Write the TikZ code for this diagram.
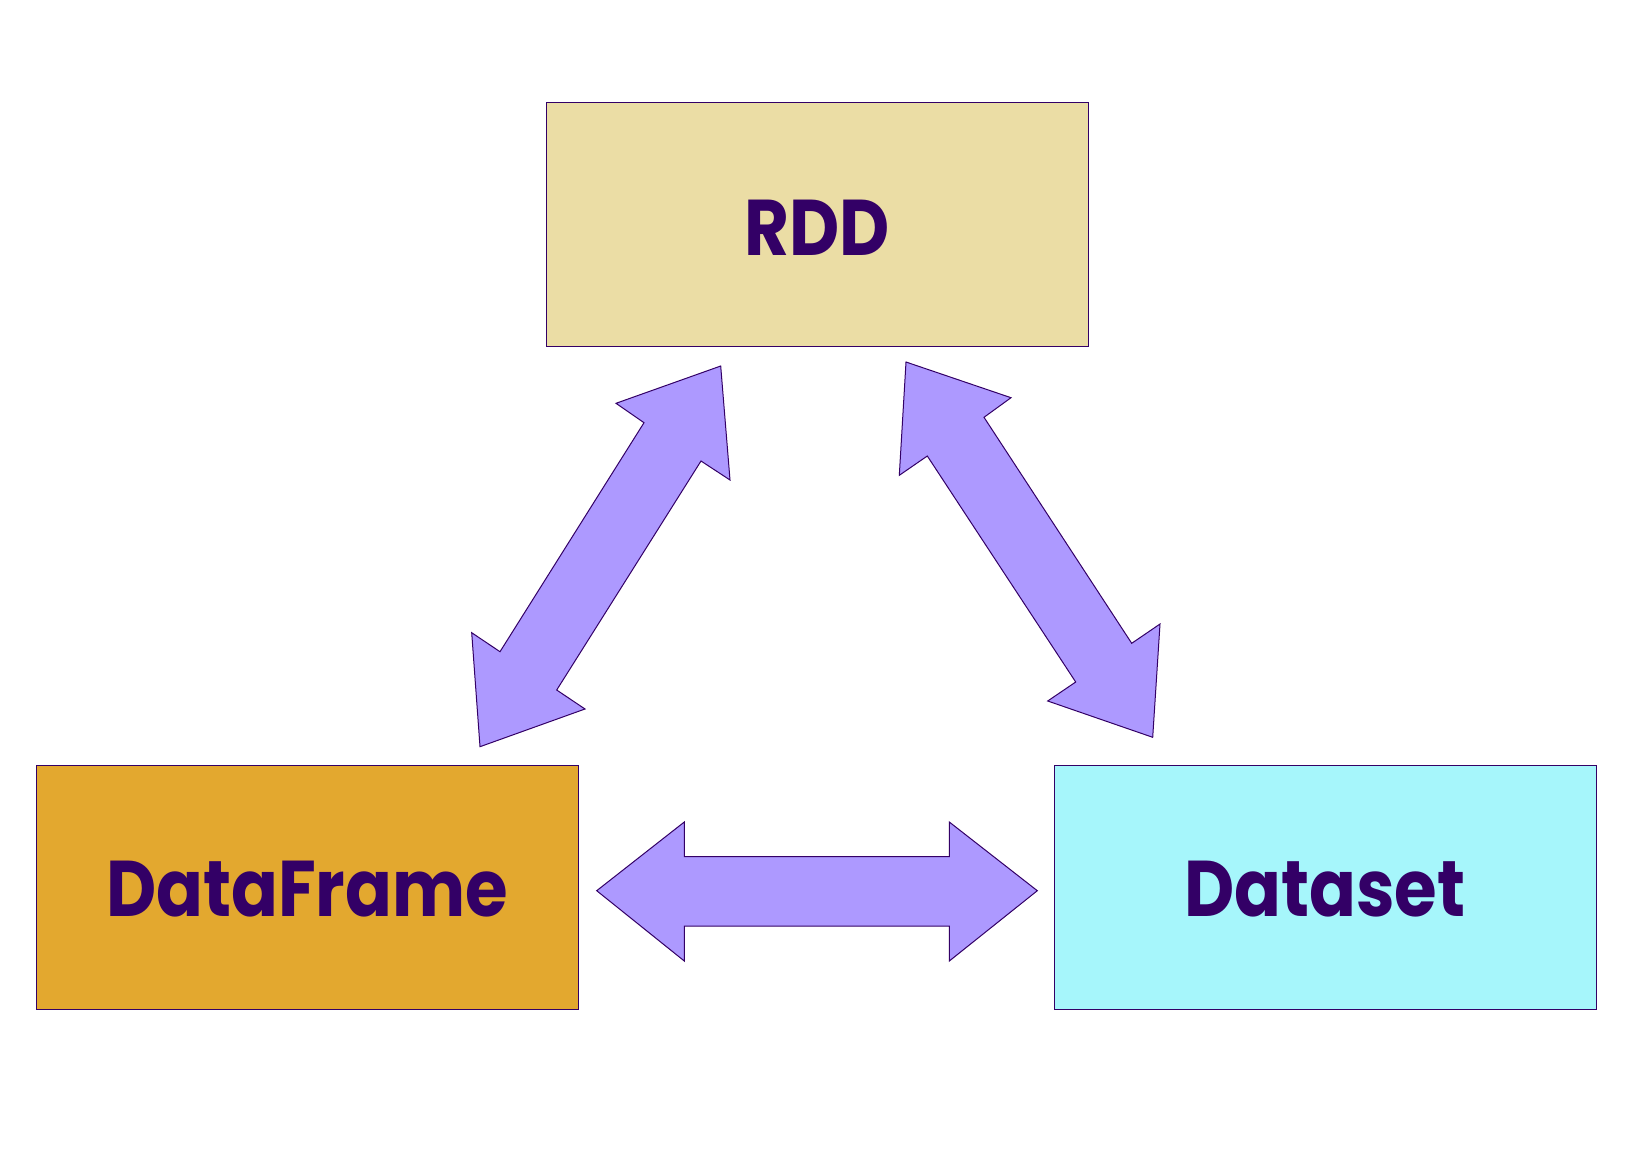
\documentclass[tikz,border=0pt]{standalone}
\usepackage{graphicx}
\usepackage{fontspec}
\setmainfont{Poppins}
\definecolor{ink}{HTML}{330066}
\definecolor{rddfill}{HTML}{EBDDA5}
\definecolor{dffill}{HTML}{E3A82F}
\definecolor{dsfill}{HTML}{A6F6FB}
\definecolor{arrfill}{HTML}{AD99FF}
\newcommand{\boxlbl}[1]{\scalebox{0.874}[1]{#1}}
\tikzset{
  boxnode/.style={draw=ink, line width=1pt, minimum width=542pt, minimum height=244pt, inner sep=0pt},
  lblnode/.style={inner sep=0pt, text=ink, font=\fontsize{79}{81}\selectfont\bfseries},
  blockarrow/.style={draw=ink, fill=arrfill, line width=1pt, line join=miter}
}
\begin{document}
\begin{tikzpicture}[x=1pt,y=-1pt]
\useasboundingbox[fill=white] (0,0) rectangle (1633,1154);
\node[boxnode, fill=rddfill] (rdd) at (817,224) {};
\node[boxnode, fill=dffill] (df) at (307,887) {};
\node[boxnode, fill=dsfill] (ds) at (1325,887) {};
\node[lblnode] (rddlbl) at ([yshift=-3.5pt]rdd.center) {\boxlbl{RDD}};
\node[lblnode] (dflbl) at ([yshift=-2pt]df.center) {\boxlbl{DataFrame}};
\node[lblnode] (dslbl) at ([yshift=-2pt]ds.center) {\boxlbl{Dataset}};
% RDD <-> DataFrame
\draw[blockarrow] (720.7,366) -- (730,480) -- (701,461) -- (556.7,690) -- (585,709) -- (480,746.7) -- (471.7,632.7) -- (500,651.7) -- (644,422.7) -- (616,403.3) -- cycle;
% RDD <-> Dataset
\draw[blockarrow] (906,362) -- (1011,397.7) -- (984,417.3) -- (1131.7,643.3) -- (1160,624) -- (1152.7,737.3) -- (1047.7,701) -- (1075.7,682) -- (927.3,456) -- (899.3,475.3) -- cycle;
% DataFrame <-> Dataset
\draw[blockarrow] (596.7,890.7) -- (684.3,822) -- (684.3,856.7) -- (949.3,856.7) -- (949.3,822) -- (1037.3,890.7) -- (949.3,961) -- (949.3,926) -- (684.3,926) -- (684.3,961) -- cycle;
\end{tikzpicture}
\end{document}
